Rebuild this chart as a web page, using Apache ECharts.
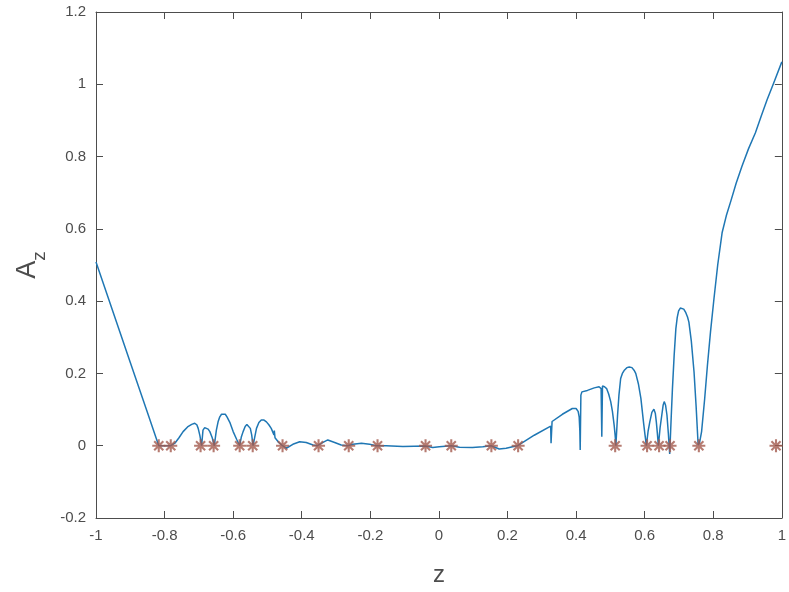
<!DOCTYPE html>
<html>
<head>
<meta charset="utf-8">
<script src="https://cdn.jsdelivr.net/npm/echarts@6/dist/echarts.min.js"></script>
<style>
html,body{margin:0;padding:0;background:#fff;}
#chart{width:789px;height:592px;}
</style>
</head>
<body>
<div id="chart"></div>
<script>
// Curve samples A_z(z)
var zVals = [
  -1.000,-0.950,-0.900,-0.850,-0.817,-0.782,
  -0.770,-0.758,-0.746,-0.733,-0.721,-0.712,-0.706,-0.702,-0.697,-0.692,
  -0.688,-0.683,-0.678,-0.673,-0.668,-0.661,-0.655,
  -0.649,-0.644,-0.639,-0.634,-0.629,-0.623,-0.618,-0.609,-0.600,-0.590,-0.581,
  -0.576,-0.571,-0.565,-0.560,-0.555,-0.550,-0.546,-0.542,
  -0.532,-0.525,-0.518,-0.510,-0.503,-0.496,-0.489,-0.481,-0.480,-0.478,-0.467,-0.456,
  -0.445,-0.426,-0.406,-0.387,-0.367,-0.354,-0.338,-0.324,-0.304,-0.285,-0.266,-0.251,-0.226,-0.202,-0.183,
  -0.154,-0.105,-0.039,-0.018,0.001,0.036,0.060,0.098,0.128,0.152,0.176,0.196,0.215,0.230,
  0.278,0.326,0.327,0.330,0.360,0.389,0.400,0.406,0.409,0.411,0.412,0.414,0.417,0.433,0.453,0.467,0.473,0.475,
  0.477,0.483,0.489,0.495,0.501,0.506,0.511,0.514,0.516,
  0.521,0.525,0.530,0.535,0.540,0.548,0.555,0.563,0.569,0.574,0.582,0.589,0.597,0.601,0.605,
  0.610,0.615,0.621,0.627,0.631,0.634,0.637,0.640,
  0.645,0.650,0.654,0.657,0.661,0.665,0.669,0.673,
  0.677,0.681,0.686,0.691,0.695,0.699,0.704,0.708,0.714,0.720,0.725,0.729,0.736,0.744,0.750,0.756,
  0.760,0.766,0.775,0.783,0.792,0.802,0.813,0.826,0.838,0.851,0.867,0.884,0.903,0.923,0.940,0.957,0.976,1.000];
var aVals = [
  0.508,0.369,0.230,0.092,0.000,0.000,
  0.007,0.022,0.039,0.052,0.059,0.062,0.058,0.048,0.028,0.000,
  0.043,0.050,0.050,0.046,0.039,0.022,0.000,
  0.043,0.066,0.080,0.087,0.089,0.087,0.080,0.063,0.039,0.018,0.000,
  0.025,0.039,0.053,0.059,0.056,0.048,0.030,0.000,
  0.048,0.064,0.071,0.071,0.066,0.058,0.048,0.030,0.042,0.022,0.009,0.000,
  -0.007,0.004,0.011,0.009,0.002,0.000,0.009,0.016,0.009,0.002,0.000,0.004,0.007,0.004,0.000,
  0.000,-0.002,-0.001,-0.005,-0.003,0.000,-0.004,-0.005,-0.003,0.000,-0.009,-0.007,-0.003,0.000,
  0.029,0.054,0.007,0.067,0.087,0.103,0.103,0.095,0.080,0.040,-0.012,0.140,0.149,0.153,0.160,0.163,0.158,0.025,
  0.165,0.163,0.158,0.143,0.122,0.095,0.057,0.028,0.000,
  0.085,0.140,0.186,0.200,0.208,0.216,0.218,0.216,0.209,0.200,0.170,0.131,0.062,0.030,0.000,
  0.040,0.066,0.092,0.101,0.090,0.066,0.035,0.000,
  0.050,0.085,0.113,0.122,0.112,0.085,0.035,-0.023,
  0.070,0.158,0.250,0.324,0.355,0.373,0.381,0.383,0.378,0.368,0.356,0.342,0.290,0.204,0.110,0.002,
  0.008,0.039,0.130,0.222,0.315,0.406,0.500,0.590,0.636,0.676,0.727,0.774,0.822,0.866,0.912,0.957,1.003,1.062];
// Marked points (on z axis)
var starZ = [-0.817,-0.782,-0.695,-0.657,-0.581,-0.543,-0.456,-0.351,-0.263,-0.179,-0.039,0.036,
  0.153,0.231,0.514,0.607,0.642,0.674,0.758,0.983];
var starA = starZ.map(function(){return 0;});

var xTicks = {min:-1, max:1, interval:0.2};
var yTicks = {min:-0.2, max:1.2, interval:0.2};

var curve = zVals.map(function(z,i){return [z, aVals[i]];});
var stars = starZ.map(function(z,i){return [z, starA[i]];});

var asterisk = 'path://M0,42L100,42L100,58L0,58Z M42,0L58,0L58,100L42,100Z ' +
  'M9.3,20.6L20.6,9.3L90.7,79.4L79.4,90.7Z M79.4,9.3L90.7,20.6L20.6,90.7L9.3,79.4Z';

var axisCol = '#4d4d4d';
var font = 'Liberation Sans, Helvetica, Arial, sans-serif';
var chart = echarts.init(document.getElementById('chart'), null, {renderer:'canvas'});
chart.setOption({
  animation:false,
  backgroundColor:'#fff',
  grid:{left:96, right:6, top:12, bottom:72, containLabel:false},
  xAxis:[{
    type:'value', min:xTicks.min, max:xTicks.max, interval:xTicks.interval,
    name:'z', nameLocation:'middle', nameGap:45,
    nameTextStyle:{fontSize:24, color:axisCol, fontFamily:font},
    axisLine:{show:true, onZero:false, lineStyle:{color:axisCol, width:1}},
    axisTick:{show:true, inside:true, length:7, lineStyle:{color:axisCol}},
    axisLabel:{fontSize:15, color:axisCol, fontFamily:font, margin:10},
    splitLine:{show:false}
  },{
    type:'value', position:'top', min:xTicks.min, max:xTicks.max, interval:xTicks.interval,
    axisLine:{show:true, onZero:false, lineStyle:{color:axisCol, width:1}},
    axisTick:{show:true, inside:true, length:7, lineStyle:{color:axisCol}},
    axisLabel:{show:false}, splitLine:{show:false}
  }],
  yAxis:[{
    type:'value', min:yTicks.min, max:yTicks.max, interval:yTicks.interval,
    name:'A{sub|z}', nameLocation:'middle', nameGap:50, nameRotate:90,
    nameTextStyle:{fontSize:27, color:axisCol, fontFamily:font,
      rich:{sub:{fontSize:19, color:axisCol, fontFamily:font, verticalAlign:'bottom', padding:[0,0,-8,0]}}},
    axisLine:{show:true, onZero:false, lineStyle:{color:axisCol, width:1}},
    axisTick:{show:true, inside:true, length:7, lineStyle:{color:axisCol}},
    axisLabel:{fontSize:15, color:axisCol, fontFamily:font, margin:10},
    splitLine:{show:false}
  },{
    type:'value', position:'right', min:yTicks.min, max:yTicks.max, interval:yTicks.interval,
    axisLine:{show:true, onZero:false, lineStyle:{color:axisCol, width:1}},
    axisTick:{show:true, inside:true, length:7, lineStyle:{color:axisCol}},
    axisLabel:{show:false}, splitLine:{show:false}
  }],
  series:[{
    type:'line', data:curve, showSymbol:false, symbol:'none',
    lineStyle:{color:'#1f77b4', width:1.5}, smooth:false, z:2
  },{
    type:'scatter', data:stars, symbol:asterisk, symbolSize:13,
    itemStyle:{color:'#a35a4e'}, z:3
  }]
});
</script>
</body>
</html>
